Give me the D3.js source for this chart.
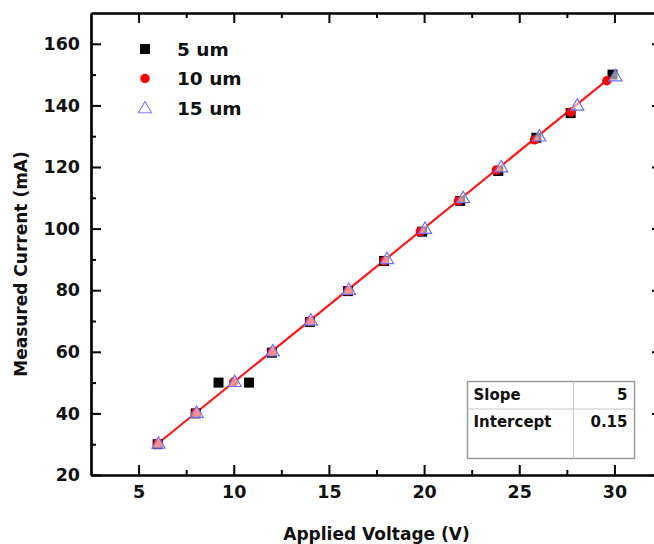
<!DOCTYPE html>
<html>
<head>
<meta charset="utf-8">
<script src="https://cdn.jsdelivr.net/npm/d3@7"></script>
<style>
  html, body { margin: 0; padding: 0; background: #fff; overflow: hidden; }
  svg { display: block; font-family: "DejaVu Sans", sans-serif; }
</style>
</head>
<body>
<div class="chart-container"></div>
<script>
// data
const x5 = [6, 8, 9.2, 10.8, 12, 14, 16, 17.9, 19.9, 21.9, 23.9, 25.9, 27.7, 29.9];
const y5 = [30, 40, 50, 50, 59.7, 69.7, 79.7, 89.5, 99, 109, 118.7, 129.5, 137.5, 150];
const x10 = [6, 8, 10, 12, 14, 16, 17.9, 19.8, 21.8, 23.8, 25.8, 27.7, 29.6];
const y10 = [30.2, 40.2, 50.2, 60, 70, 79.8, 89.5, 99, 109, 119, 128.8, 137.8, 148];
const x15 = [6.05, 8.05, 10.05, 12.05, 14.05, 16.05, 18.05, 20.05, 22.05, 24.05, 26.05, 28.05, 30.05];
const y15 = [30.3, 40.3, 50.3, 60.2, 70.2, 80.2, 90.2, 100, 110, 120, 130, 140, 149.5];
const seriesNames = ["5 um", "10 um", "15 um"];
const fitSlope = 5;
const fitIntercept = 0.15;
const fitRange = [6, 30];
const xMajor = [5, 10, 15, 20, 25, 30];
const xMinor = [7.5, 12.5, 17.5, 22.5, 27.5];
const yMajor = [20, 40, 60, 80, 100, 120, 140, 160];
const yMinor = [30, 50, 70, 90, 110, 130, 150];
const tableRows = [["Slope", "5"], ["Intercept", "0.15"], ["", ""]];

function draw() {
    const width = 654;
    const height = 544;
    const marginTop = 13;
    const marginLeft = 91;
    const plotRight = 662;
    const plotBottom = 475;
    const font = '"DejaVu Sans", sans-serif';

    const x = d3.scaleLinear().domain([2.5, 32.5]).range([marginLeft, plotRight]);
    const y = d3.scaleLinear().domain([20, 170]).range([plotBottom, marginTop]);

    const svg = d3.select('.chart-container').append("svg")
        .attr("width", width)
        .attr("height", height);

    // axes, ticks point inward
    function styleAxis(g) {
        g.selectAll('path').attr('stroke', '#000').attr('stroke-width', 2.2);
        g.selectAll('line').attr('stroke', '#000').attr('stroke-width', 2);
        g.selectAll('text').attr('fill', '#111').attr('font-size', 17.5).attr('font-weight', 'bold')
            .attr('font-family', font);
    }

    const axes = [
        [d3.axisBottom(x), `translate(0,${plotBottom})`, xMajor, xMinor, true],
        [d3.axisTop(x), `translate(0,${marginTop})`, xMajor, xMinor, false],
        [d3.axisLeft(y), `translate(${marginLeft},0)`, yMajor, yMinor, true],
        [d3.axisRight(y), `translate(${plotRight},0)`, yMajor, yMinor, false]
    ];
    axes.forEach(([axisFn, tr, major, minor, labels]) => {
        const gMin = svg.append('g').attr('transform', tr)
            .call(axisFn.tickValues(minor).tickSizeInner(-5).tickSizeOuter(0).tickFormat(''));
        styleAxis(gMin);
        const gMaj = svg.append('g').attr('transform', tr)
            .call(axisFn.tickValues(major).tickSizeInner(-10).tickSizeOuter(0)
                .tickPadding(11).tickFormat(labels ? d3.format('d') : ''));
        styleAxis(gMaj);
    });

    // axis titles
    svg.append('text')
        .attr('x', (marginLeft + plotRight) / 2)
        .attr('y', 540)
        .attr('text-anchor', 'middle')
        .attr('font-size', 17).attr('font-weight', 'bold').attr('fill', '#111')
        .text('Applied Voltage (V)');

    svg.append('text')
        .attr('transform', 'translate(27,264) rotate(-90)')
        .attr('text-anchor', 'middle')
        .attr('font-size', 17).attr('font-weight', 'bold').attr('fill', '#111')
        .text('Measured Current (mA)');

    // fit line
    svg.append('line')
        .attr('x1', x(fitRange[0])).attr('y1', y(fitSlope * fitRange[0] + fitIntercept))
        .attr('x2', x(fitRange[1])).attr('y2', y(fitSlope * fitRange[1] + fitIntercept))
        .attr('stroke', '#ff1a1a').attr('stroke-width', 2.2);

    const sq = d3.symbol().type(d3.symbolSquare).size(100);
    const circ = d3.symbol().type(d3.symbolCircle).size(70);
    const tri = d3.symbol().type(d3.symbolTriangle).size(75);

    const pts = svg.append('g');
    pts.selectAll('.s5').data(d3.zip(x5, y5)).enter().append('path')
        .attr('d', sq).attr('transform', d => `translate(${x(d[0])},${y(d[1])})`)
        .attr('fill', '#000');
    pts.selectAll('.s10').data(d3.zip(x10, y10)).enter().append('path')
        .attr('d', circ).attr('transform', d => `translate(${x(d[0])},${y(d[1])})`)
        .attr('fill', '#ff0000');
    pts.selectAll('.s15').data(d3.zip(x15, y15)).enter().append('path')
        .attr('d', tri).attr('transform', d => `translate(${x(d[0])},${y(d[1]) + 1})`)
        .attr('fill', 'rgba(255,255,255,0.55)').attr('stroke', '#6f6ff0').attr('stroke-width', 1.2);

    // legend
    const legend = svg.append('g').attr('id', 'legend');
    const legendSymbols = [
        [sq, '#000', 'none'],
        [circ, '#ff0000', 'none'],
        [tri, 'none', '#8080f0']
    ];
    seriesNames.forEach((name, i) => {
        const ly = 49 + i * 29.5;
        legend.append('path').attr('d', legendSymbols[i][0])
            .attr('transform', `translate(145,${ly + (i === 2 ? 1 : 0)})`)
            .attr('fill', legendSymbols[i][1]).attr('stroke', legendSymbols[i][2]).attr('stroke-width', 1.1);
        legend.append('text').attr('x', 177).attr('y', ly + 6.5)
            .attr('font-size', 18.5).attr('font-weight', 'bold').attr('fill', '#111')
            .text(name);
    });

    // fit table
    const tb = svg.append('g').attr('id', 'fit-table');
    const tx0 = 467.5, tx1 = 573.5, tx2 = 634.5, ty0 = 381.5, rowH = 27.5;
    tb.append('rect').attr('x', tx0).attr('y', ty0).attr('width', tx2 - tx0).attr('height', rowH * 2.8)
        .attr('fill', '#fff').attr('stroke', '#9a9a9a').attr('stroke-width', 1.5);
    tb.append('line').attr('x1', tx1).attr('x2', tx1).attr('y1', ty0).attr('y2', ty0 + rowH * 2.8)
        .attr('stroke', '#c8c8c8').attr('stroke-width', 1);
    tb.append('line').attr('x1', tx0).attr('x2', tx2).attr('y1', ty0 + rowH).attr('y2', ty0 + rowH)
        .attr('stroke', '#c8c8c8').attr('stroke-width', 1);
    tableRows.forEach((r, i) => {
        tb.append('text').attr('x', tx0 + 6).attr('y', ty0 + 18 + i * rowH)
            .attr('font-size', 15).attr('font-weight', 'bold').attr('fill', '#111').text(r[0]);
        tb.append('text').attr('x', tx2 - 7).attr('y', ty0 + 18 + i * rowH)
            .attr('text-anchor', 'end')
            .attr('font-size', 15).attr('font-weight', 'bold').attr('fill', '#111').text(r[1]);
    });
}

draw();
</script>
</body>
</html>
